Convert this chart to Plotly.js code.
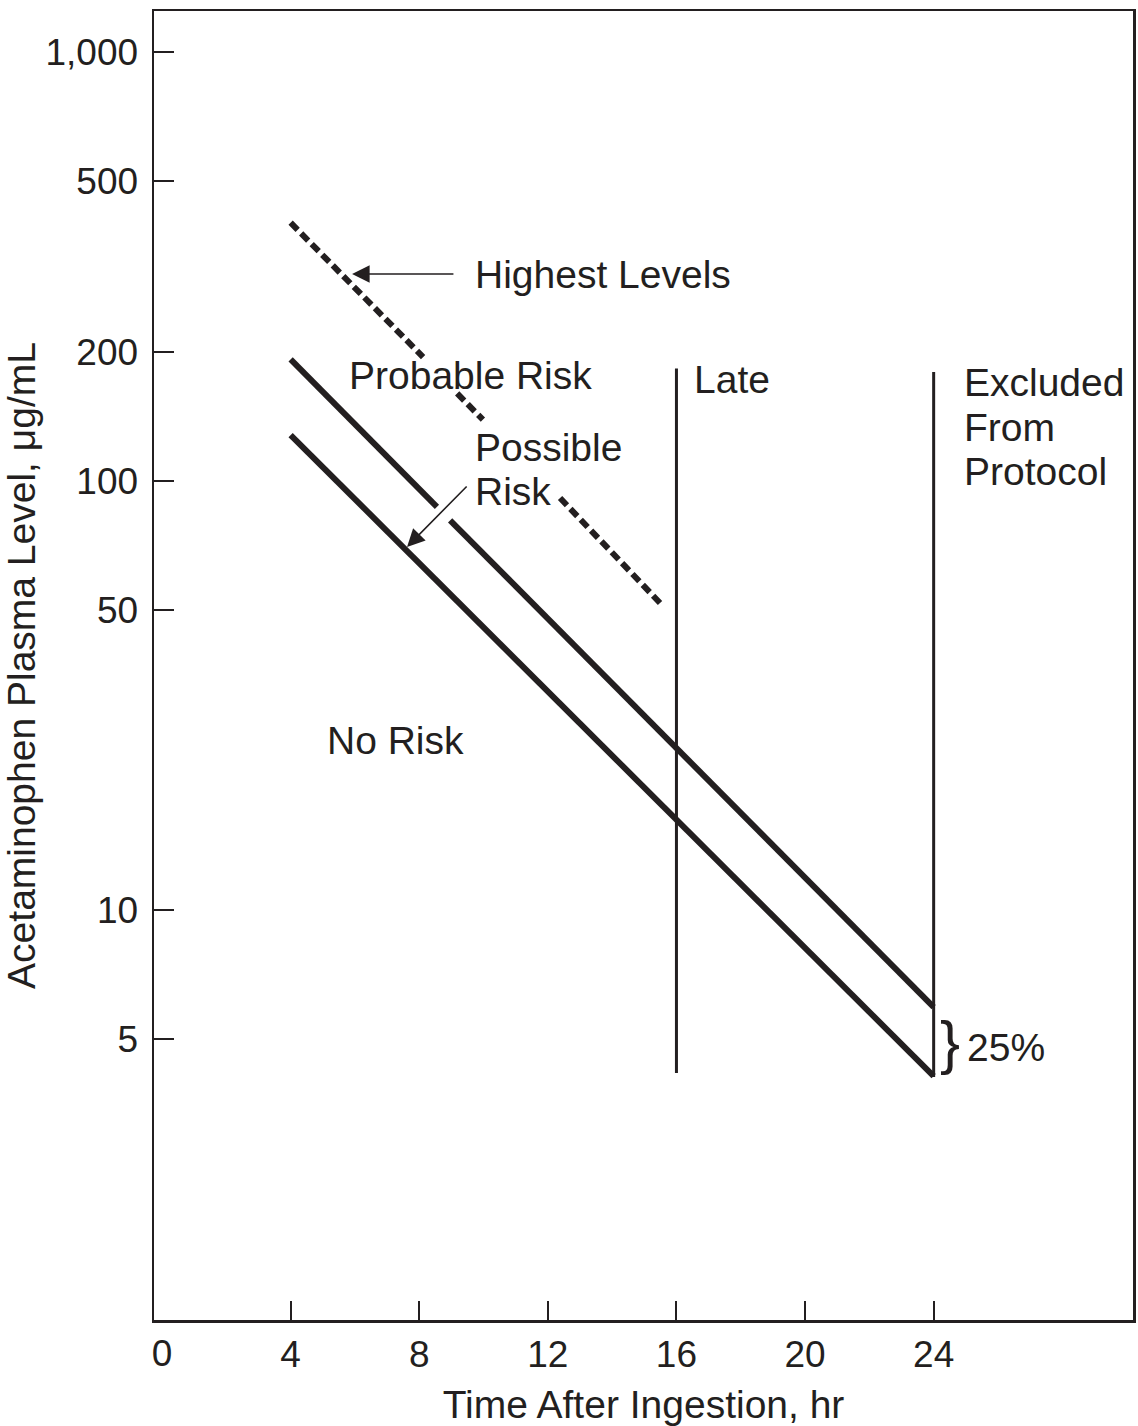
<!DOCTYPE html>
<html>
<head>
<meta charset="utf-8">
<script src="https://cdn.plot.ly/plotly-3.0.1.min.js"></script>
<style>html,body{margin:0;padding:0;background:#fff;}#chart{width:1138px;height:1426px;}</style>
</head>
<body>
<div id="chart"></div>
<script>
// ---- data ----
const xTickVals = [4, 8, 12, 16, 20, 24];
const xTickText = ["4", "8", "12", "16", "20", "24"];
const yTickVals = [5, 10, 50, 100, 200, 500, 1000];
const yTickText = ["5", "10", "50", "100", "200", "500", "1,000"];

// upper solid line (with a gap around the "Possible Risk" arrow)
const upperHours = [4, 8.55, null, 8.96, 24];
const upperLevels = [192, 87, null, 81, 5.94];
// lower solid line
const lowerHours = [4, 24];
const lowerLevels = [128, 4.1];
// dashed "highest levels" line, interrupted by labels
const highestHours = [4, 8.12, null, 9.18, 9.98, null, 12.38, 15.58];
const highestLevels = [400, 194.5, null, 160, 139, null, 91.3, 51.1];
// vertical lines
const lateHours = [16, 16];
const lateLevels = [183, 4.17];
const excludedHours = [24, 24];
const excludedLevels = [179.5, 4.08];

// labels: [text, hour, level]
const labelTexts = ["Highest Levels", "Probable Risk", "Possible", "Risk", "Late", "Excluded", "From", "Protocol", "No Risk", "25%"];
const labelHours = [9.67, 5.75, 9.67, 9.67, 16.49, 24.88, 24.88, 24.88, 5.07, 24.98];
const labelLevels = [303.7, 176.6, 120, 94.3, 172.9, 170.1, 133.6, 105, 24.8, 4.77];

// arrows: tip and tail
const arrowTipHours = [5.91, 7.62];
const arrowTipLevels = [303.7, 70.2];
const arrowTailHours = [9.11, 9.52];
const arrowTailLevels = [303.7, 97.9];

const ink = "#231f20";
const font = "Liberation Sans, Arial, Helvetica, sans-serif";

const traces = [
  {x: upperHours, y: upperLevels, mode: "lines", line: {color: ink, width: 6}, connectgaps: false},
  {x: lowerHours, y: lowerLevels, mode: "lines", line: {color: ink, width: 6}},
  {x: highestHours, y: highestLevels, mode: "lines", line: {color: ink, width: 6, dash: "10px,5px"}, connectgaps: false},
  {x: lateHours, y: lateLevels, mode: "lines", line: {color: ink, width: 3}},
  {x: excludedHours, y: excludedLevels, mode: "lines", line: {color: ink, width: 3}},
  {x: [], y: [], xaxis: "x2", mode: "lines"}
];

const annotations = [];
for (let i = 0; i < labelTexts.length; i++) {
  annotations.push({
    x: labelHours[i], y: Math.log10(labelLevels[i]), xref: "x", yref: "y",
    text: labelTexts[i], showarrow: false, xanchor: "left", yanchor: "middle",
    font: {family: font, size: 39, color: ink}
  });
}
// brace
annotations.push({
  x: 24.51, y: Math.log10(4.92), xref: "x", yref: "y", text: "}", showarrow: false,
  xanchor: "center", yanchor: "middle", font: {family: font, size: 60, color: ink}
});
for (let i = 0; i < arrowTipHours.length; i++) {
  annotations.push({
    x: arrowTipHours[i], y: Math.log10(arrowTipLevels[i]), xref: "x", yref: "y",
    ax: arrowTailHours[i], ay: Math.log10(arrowTailLevels[i]), axref: "x", ayref: "y",
    text: "", showarrow: true, arrowhead: 2, arrowsize: 2.2, arrowwidth: 1.6, arrowcolor: ink, standoff: 0
  });
}

const xRange = [-0.25, 30.2];
const layout = {
  width: 1138, height: 1426,
  margin: {l: 154, r: 5, t: 11, b: 106},
  paper_bgcolor: "#fff", plot_bgcolor: "#fff",
  showlegend: false, hovermode: false,
  font: {family: font, color: ink},
  xaxis: {
    range: xRange, tickvals: xTickVals, ticktext: xTickText,
    ticks: "inside", ticklen: 19, tickwidth: 2, tickcolor: ink,
    showline: true, mirror: true, linewidth: 2.5, linecolor: ink,
    showgrid: false, zeroline: false,
    tickfont: {family: font, size: 37, color: ink}, ticklabelstandoff: 0,
    title: {text: "Time After Ingestion, hr", font: {family: font, size: 39, color: ink}, standoff: 26}
  },
  xaxis2: {
    range: xRange, overlaying: "x", anchor: "y", side: "bottom",
    tickvals: [0], ticktext: ["0"], ticks: "", showline: false, showgrid: false, zeroline: false,
    tickfont: {family: font, size: 37, color: ink}, ticklabelstandoff: 8
  },
  yaxis: {
    type: "log", range: [0.0443, 3.0956],
    tickvals: yTickVals, ticktext: yTickText,
    ticks: "inside", ticklen: 20, tickwidth: 2, tickcolor: ink,
    showline: true, mirror: true, linewidth: 2.5, linecolor: ink,
    showgrid: false, zeroline: false,
    tickfont: {family: font, size: 37, color: ink}, ticklabelstandoff: 6,
    title: {text: "Acetaminophen Plasma Level, μg/mL", font: {family: font, size: 39, color: ink}, standoff: 0}
  },
  annotations: annotations
};

Plotly.newPlot("chart", traces, layout, {staticPlot: true, displayModeBar: false});
</script>
</body>
</html>
